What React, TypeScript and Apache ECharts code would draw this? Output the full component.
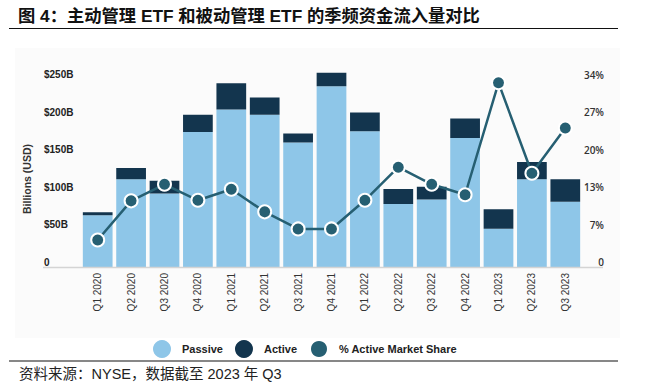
import React, { useEffect, useRef } from "react";
import * as echarts from "echarts";

const categories = ["Q1 2020","Q2 2020","Q3 2020","Q4 2020","Q1 2021","Q2 2021","Q3 2021","Q4 2021","Q1 2022","Q2 2022","Q3 2022","Q4 2022","Q1 2023","Q2 2023","Q3 2023"];
const passive = [69, 117, 98, 180, 210, 203, 166, 241, 181, 84, 90, 172, 51, 117, 87];
const active = [4, 15, 17, 23, 35, 23, 12, 18, 25, 20, 17, 26, 26, 23, 30];
const share = [4.9, 12.0, 15.0, 12.1, 14.1, 10.0, 6.9, 6.9, 12.1, 18.1, 15.0, 13.1, 33.4, 17.0, 25.2];
const leftTicks = ["0", "$50B", "$100B", "$150B", "$200B", "$250B"];
const rightTicks = ["0", "7%", "13%", "20%", "27%", "34%"];

const C_PASSIVE = "#8ec6e8";
const C_ACTIVE = "#13354e";
const C_SHARE = "#265f72";

export default function App() {
  const ref = useRef<HTMLDivElement>(null);
  useEffect(() => {
    if (!ref.current) return;
    const chart = echarts.init(ref.current, null, { renderer: "svg" });
    const latin = "'Liberation Sans', Arial, sans-serif";
    const cjk = "'Liberation Sans', 'Noto Sans CJK SC', sans-serif";
    chart.setOption({
      animation: false,
      backgroundColor: "#ffffff",
      grid: { left: 81, right: 79, top: 79.5, bottom: 123, containLabel: false },
      legend: {
        left: 153,
        top: 339,
        padding: 0,
        icon: "circle",
        itemWidth: 18,
        itemHeight: 18,
        itemGap: 12,
        data: ["Passive", "Active", "% Active Market Share"],
        textStyle: { fontFamily: latin, fontWeight: "bold", fontSize: 11, color: "#222", padding: [0, 0, 0, 6] },
      },
      xAxis: {
        type: "category",
        data: categories,
        axisLine: { show: false },
        axisTick: { show: false },
        axisLabel: { rotate: 90, fontSize: 10, color: "#333", fontFamily: latin, margin: 6, interval: 0 },
      },
      yAxis: [
        {
          type: "value",
          min: 0,
          max: 250,
          interval: 50,
          splitLine: { show: false },
          axisLine: { show: false },
          axisTick: { show: false },
          axisLabel: {
            align: "left",
            verticalAlign: "bottom",
            margin: 37,
            fontSize: 10,
            fontWeight: "bold",
            color: "#222",
            fontFamily: latin,
            formatter: (v: number) => leftTicks[Math.round(v / 50)] ?? "",
          },
        },
        {
          type: "value",
          min: 0,
          max: 34,
          interval: 6.8,
          splitLine: { show: false },
          axisLine: { show: false },
          axisTick: { show: false },
          axisLabel: {
            align: "right",
            verticalAlign: "bottom",
            margin: 22,
            fontSize: 10,
            fontWeight: 600,
            color: "#333",
            fontFamily: "'Open Sans', sans-serif",
            formatter: (v: number) => rightTicks[Math.round(v / 6.8)] ?? "",
          },
        },
      ],
      series: [
        {
          name: "Passive",
          type: "bar",
          stack: "flows",
          data: passive,
          barCategoryGap: "11%",
          itemStyle: { color: C_PASSIVE },
          clip: false,
        },
        {
          name: "Active",
          type: "bar",
          stack: "flows",
          data: active,
          itemStyle: { color: C_ACTIVE },
          clip: false,
        },
        {
          name: "% Active Market Share",
          type: "line",
          yAxisIndex: 1,
          data: share,
          symbol: "circle",
          symbolSize: 13,
          lineStyle: { color: C_SHARE, width: 2.5 },
          itemStyle: { color: C_SHARE, borderColor: "#ffffff", borderWidth: 2 },
          z: 5,
        },
      ],
      graphic: [
        { type: "rect", shape: { x: 15, y: 48, width: 605, height: 290 }, style: { fill: "#fbfbfb" }, z: -10, silent: true },
        {
          type: "text",
          left: 18,
          top: 7,
          style: { text: "图 4：主动管理 ETF 和被动管理 ETF 的季频资金流入量对比", fontFamily: cjk, fontWeight: "bold", fontSize: 17.3, fill: "#111" },
        },
        { type: "line", shape: { x1: 9, y1: 28.5, x2: 618, y2: 28.5 }, style: { stroke: "#111", lineWidth: 1.2 } },
        { type: "line", shape: { x1: 43, y1: 267.5, x2: 603, y2: 267.5 }, style: { stroke: "#d4d4d4", lineWidth: 1.5 }, z: 10 },
        {
          type: "text",
          x: 27,
          y: 179,
          rotation: Math.PI / 2,
          style: { text: "Billions (USD)", fontFamily: latin, fontWeight: "bold", fontSize: 10.5, fill: "#333", align: "center", verticalAlign: "middle" },
        },
        { type: "line", shape: { x1: 9, y1: 361, x2: 618, y2: 361 }, style: { stroke: "#111", lineWidth: 1.2 } },
        {
          type: "text",
          left: 19,
          top: 367,
          style: { text: "资料来源：NYSE，数据截至 2023 年 Q3", fontFamily: cjk, fontSize: 14.5, fill: "#222" },
        },
      ],
    });
    return () => chart.dispose();
  }, []);
  return <div ref={ref} style={{ position: "absolute", left: 0, top: 0, width: 661, height: 390 }} />;
}
